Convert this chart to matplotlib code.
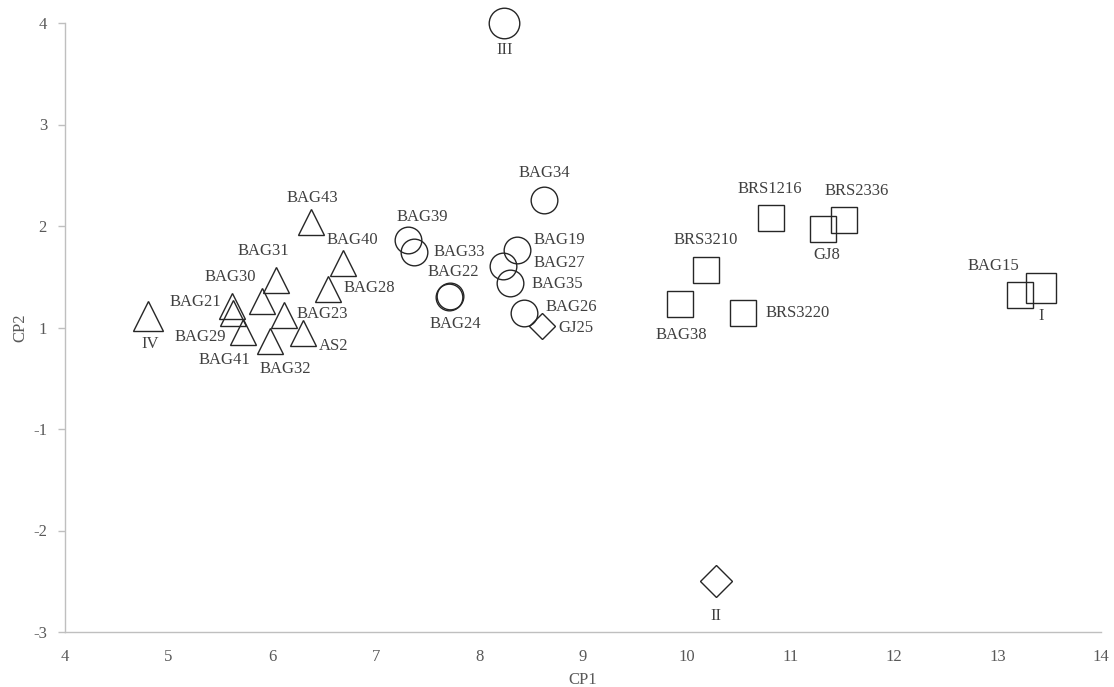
import numpy as np
import matplotlib
matplotlib.use("Agg")
import matplotlib.pyplot as plt

# ---- data (CP1, CP2 scores) ----
# Group I
g1_names = ["BRS1216", "BRS2336", "GJ8", "BRS3210", "BAG38", "BRS3220", "BAG15"]
g1_x = [10.81, 11.52, 11.32, 10.19, 9.94, 10.54, 13.22]
g1_y = [2.08, 2.06, 1.97, 1.57, 1.23, 1.14, 1.32]

# Group II
g2_names = ["GJ25"]
g2_x = [8.60]
g2_y = [1.01]

# Group III
g3_names = ["BAG34", "BAG39", "BAG33", "BAG22", "BAG24", "BAG19", "BAG27", "BAG35", "BAG26"]
g3_x = [8.62, 7.31, 7.37, 7.72, 7.71, 8.36, 8.23, 8.30, 8.43]
g3_y = [2.26, 1.86, 1.74, 1.31, 1.30, 1.76, 1.61, 1.44, 1.14]

# Group IV
g4_names = ["BAG43", "BAG40", "BAG28", "BAG31", "BAG30", "BAG21", "BAG29",
            "BAG41", "BAG23", "AS2", "BAG32"]
g4_x = [6.37, 6.68, 6.54, 6.04, 5.90, 5.61, 5.62, 5.72, 6.11, 6.30, 5.98]
g4_y = [2.04, 1.64, 1.38, 1.47, 1.26, 1.21, 1.14, 0.92, 1.12, 0.89, 0.73]

# Group centroids
centroid_names = ["I", "II", "III", "IV"]
centroid_x = [13.42, 10.28, 8.24, 4.80]
centroid_y = [1.39, -2.50, 4.00, 1.11]

x_ticks = [4, 5, 6, 7, 8, 9, 10, 11, 12, 13, 14]
y_ticks = [4, 3, 2, 1, -1, -2, -3]
y_ticklabels = ["4", "3", "2", "1", "-1", "-2", "-3"]

# ---- label placement (offset of label centre from the marker, in pixels: right, down) ----
label_offsets = {
    "IV": (2.5, 28), "BAG43": (1.4, -24), "BAG40": (10, -22.5), "BAG28": (41.4, -1),
    "BAG31": (-12.7, -28.3), "BAG30": (-32, -24.5), "BAG21": (-36.5, -4.3),
    "BAG29": (-33, 23.7), "BAG41": (-19, 28.5), "BAG23": (38.4, -1.7),
    "AS2": (30, 13.4), "BAG32": (15.5, 27.8),
    "III": (0, 26.7), "BAG34": (0.7, -26.3), "BAG39": (14.7, -23.3), "BAG33": (45.3, 0),
    "BAG22": (3, -24), "BAG24": (6.4, 27), "BAG19": (43, -10.4), "BAG27": (56.4, -3),
    "BAG35": (46.6, 1.2), "BAG26": (47.7, -5.9), "GJ25": (34, 2), "II": (0, 34.5),
    "BRS1216": (-1, -29.2), "BRS2336": (13, -28.8), "GJ8": (3, 25.8),
    "BRS3210": (-0.8, -29.4), "BAG38": (0.7, 30.5), "BRS3220": (55.3, 0),
    "BAG15": (-27.3, -29.3), "I": (0, 28.4),
}

# ---- vertical axis: the band between 1 and -1 occupies a single tick interval ----
def y_forward(y):
    y = np.asarray(y, dtype=float)
    return np.where(y >= 1, y - 1, np.where(y <= -1, y, (y - 1) / 2))


def y_inverse(u):
    u = np.asarray(u, dtype=float)
    return np.where(u >= 0, u + 1, np.where(u <= -1, u, 2 * u + 1))


plt.rcParams["font.family"] = ["Liberation Serif", "DejaVu Serif"]

fig = plt.figure(figsize=(11.14, 6.87), dpi=100)
ax = fig.add_axes([65 / 1114, 55 / 687, 1036 / 1114, 609 / 687])
ax.set_yscale("function", functions=(y_forward, y_inverse))

edge = "#262626"


def draw(xs, ys, marker, size):
    ax.plot(xs, ys, linestyle="none", marker=marker, markersize=size,
            markerfacecolor="none", markeredgecolor=edge, markeredgewidth=1.0,
            clip_on=False)


draw(g1_x, g1_y, "s", 18.7)
draw(g2_x, g2_y, "D", 13.6)
draw(g3_x, g3_y, "o", 19.2)
draw(g4_x, g4_y, "^", 19.2)

# centroids: slightly larger markers
cent_markers = ["s", "D", "o", "^"]
cent_sizes = [21.6, 15.8, 22.0, 21.6]
for cx, cy, m, s in zip(centroid_x, centroid_y, cent_markers, cent_sizes):
    draw([cx], [cy], m, s)

label_color = "#404040"
all_names = g1_names + g2_names + g3_names + g4_names + centroid_names
all_x = g1_x + g2_x + g3_x + g4_x + centroid_x
all_y = g1_y + g2_y + g3_y + g4_y + centroid_y
for name, px, py in zip(all_names, all_x, all_y):
    dx, dy = label_offsets[name]
    ax.annotate(name, (px, py), xytext=(dx, -dy), textcoords="offset pixels",
                ha="center", va="center", fontsize=12, color=label_color)

ax.set_xlim(4, 14)
ax.set_ylim(-3, 4)
ax.set_xticks(x_ticks)
ax.set_yticks(y_ticks)
ax.set_yticklabels(y_ticklabels)
ax.yaxis.set_minor_locator(matplotlib.ticker.NullLocator())

spine_color = "#BFBFBF"
for side in ("top", "right"):
    ax.spines[side].set_visible(False)
for side in ("left", "bottom"):
    ax.spines[side].set_color(spine_color)
    ax.spines[side].set_linewidth(1.0)

ax.tick_params(axis="y", direction="out", length=5, width=1.0, color=spine_color,
               labelsize=12, labelcolor="#595959", pad=8)
ax.tick_params(axis="x", length=0, labelsize=12, labelcolor="#595959", pad=12)

ax.set_xlabel("CP1", fontsize=12, color="#595959", va="center", ha="center")
ax.xaxis.set_label_coords(0.5, (632 - 680) / 609)
ax.set_ylabel("CP2", fontsize=12, color="#595959", va="center", ha="center")
ax.yaxis.set_label_coords((20 - 65) / 1036, 0.5)

fig.savefig("out.png", dpi=100)
